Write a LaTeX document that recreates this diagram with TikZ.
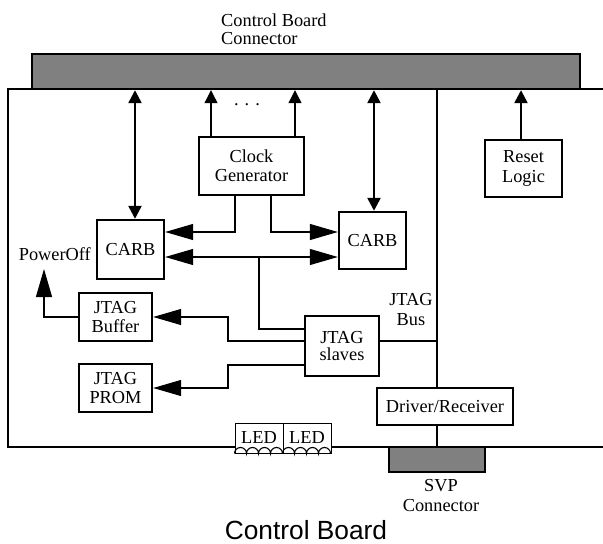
\documentclass[tikz,border=0pt]{standalone}
\usepackage{fontspec}
\setmainfont{Liberation Serif}
\newfontfamily\sansf{Liberation Sans}
\usetikzlibrary{arrows.meta,calc}
\definecolor{conngray}{HTML}{808080}
\begin{document}
\begin{tikzpicture}[x=1bp,y=-1bp,
  every node/.style={font=\fontsize{18.4pt}{19.5pt}\selectfont, inner sep=0pt},
  blk/.style={draw, line width=2.4bp, fill=white, align=center},
  ledbox/.style={draw, line width=1bp, fill=white, minimum width=48bp, minimum height=30bp},
  cbox/.style={draw, line width=2.4bp, fill=conngray},
  thk/.style={line width=2.4bp},
  thn/.style={line width=1.1bp},
  big/.style={-{Triangle[length=28bp,width=16bp]}},
  bigb/.style={{Triangle[length=28bp,width=16bp]}-{Triangle[length=28bp,width=16bp]}},
  sml/.style={-{Triangle[length=13bp,width=13bp]}},
  smlb/.style={{Triangle[length=13bp,width=13bp]}-{Triangle[length=13bp,width=13bp]}}
]
\useasboundingbox (0,0) rectangle (603,544);

% board outline
\draw[thk] (604,89) -- (8,89) -- (8,447) -- (604,447);

% connectors
\node[cbox, minimum width=548bp, minimum height=35bp] (bar) at (306,71.5) {};
\node[cbox, minimum width=96bp, minimum height=25bp] (svp) at (437,459.5) {};

% titles
\node[anchor=west, align=left, font=\fontsize{18.4pt}{18pt}\selectfont] (cbtitle) at (221,29) {Control Board\\Connector};
\node[align=center] (svplabel) at (441,495.5) {SVP\\Connector};
\node[font=\sansf\fontsize{26.4pt}{28pt}\selectfont] (boardlabel) at (306,530) {Control Board};
\node[align=center, font=\fontsize{18.4pt}{21pt}\selectfont] (buslabel) at (411,309.5) {JTAG\\Bus};
\node[anchor=east] (poweroff) at (91,254) {PowerOff};
\node[anchor=base] (dots) at (247,106) {.\,\,.\,\,.};

% blocks
\node[blk, minimum width=105bp, minimum height=58bp] (clock) at (251.5,166) {Clock\\Generator};
\node[blk, minimum width=67bp, minimum height=59bp] (carbA) at (130.5,249.5) {CARB};
\node[blk, minimum width=67bp, minimum height=57bp] (carbB) at (372.5,240.5) {CARB};
\node[blk, minimum width=77bp, minimum height=57bp] (reset) at (523.5,168.5) {Reset\\Logic};
\node[blk, minimum width=73bp, minimum height=48bp] (buffer) at (115.5,317) {JTAG\\Buffer};
\node[blk, minimum width=73bp, minimum height=48bp] (prom) at (115.5,388) {JTAG\\PROM};
\node[blk, minimum width=74bp, minimum height=60bp, font=\fontsize{18.4pt}{17pt}\selectfont] (slaves) at (342,346) {JTAG\\slaves};
\node[blk, minimum width=136bp, minimum height=37bp] (driver) at (445,406.5) {Driver/Receiver};

% LEDs
\node[ledbox] (led1) at (259,438) {LED};
\node[ledbox] (led2) at (307,438) {LED};
\draw[thn] (led1.south west) arc[start angle=180,end angle=0,radius=6bp]
  arc[start angle=180,end angle=0,radius=6bp]
  arc[start angle=180,end angle=0,radius=6bp]
  arc[start angle=180,end angle=0,radius=6bp];
\draw[thn] (led2.south west) arc[start angle=180,end angle=0,radius=6bp]
  arc[start angle=180,end angle=0,radius=6bp]
  arc[start angle=180,end angle=0,radius=6bp]
  arc[start angle=180,end angle=0,radius=6bp];

% helper coordinates
\coordinate (xA) at (135,0);
\coordinate (xB) at (374,0);
\coordinate (xC1) at (211,0);
\coordinate (xC2) at (295,0);
\coordinate (xR) at (521,0);
\coordinate (xk1) at (235,0);
\coordinate (xk2) at (271,0);
\coordinate (xbr) at (259,0);
\coordinate (xj) at (228,0);
\coordinate (busx) at (437,0);
\coordinate (yk) at (0,232);
\coordinate (yd) at (0,257);
\coordinate (ybr) at (0,329);
\coordinate (y1) at (0,341);
\coordinate (y2) at (0,365);
\coordinate (pw) at (44,269);

% vertical links to the connector
\draw[thk,smlb] (bar.south -| xA) -- (carbA.north -| xA);
\draw[thk,smlb] (bar.south -| xB) -- (carbB.north -| xB);
\draw[thn,sml] (clock.north -| xC1) -- (bar.south -| xC1);
\draw[thn,sml] (clock.north -| xC2) -- (bar.south -| xC2);
\draw[thk,sml] (reset.north -| xR) -- (bar.south -| xR);

% clock distribution
\draw[thn,big] (clock.south -| xk1) -- (xk1 |- yk) -- (carbA.east |- yk);
\draw[thn,big] (clock.south -| xk2) -- (xk2 |- yk) -- (carbB.west |- yk);

% CARB link and JTAG
\draw[thn,bigb] (carbA.east |- yd) -- (carbB.west |- yd);
\draw[thn] (xbr |- yd) -- (xbr |- ybr) -- (slaves.west |- ybr);
\draw[thn,big] (slaves.west |- y1) -- (xj |- y1) -- (xj |- buffer.east) -- (buffer.east);
\draw[thn,big] (slaves.west |- y2) -- (xj |- y2) -- (xj |- prom.east) -- (prom.east);
\draw[thn,big] (buffer.west) -- (pw |- buffer.west) -- (pw);

% JTAG bus
\draw[thk] (slaves.east |- y1) -- (busx |- y1);
\draw[thk] (busx |- bar.south) -- (busx |- driver.north);
\draw[thn] (busx |- driver.south) -- (busx |- svp.north);
\end{tikzpicture}
\end{document}
